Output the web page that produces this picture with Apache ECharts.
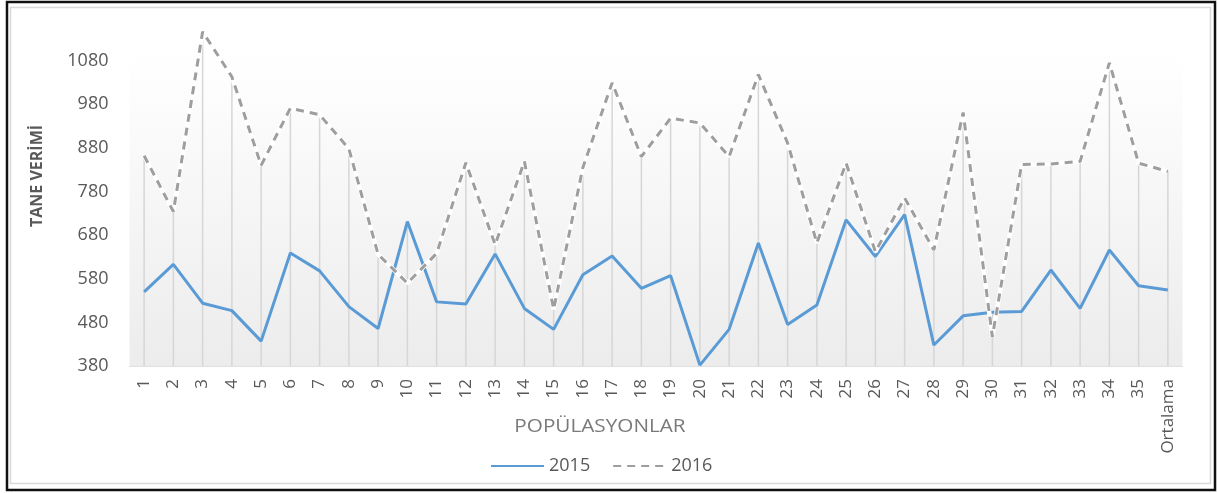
<!DOCTYPE html>
<html>
<head>
<meta charset="utf-8">
<script src="https://cdn.jsdelivr.net/npm/echarts@6/dist/echarts.min.js"></script>
<style>
  html, body { margin: 0; padding: 0; background: #ffffff; }
  #chart { width: 1218px; height: 493px; }
</style>
</head>
<body>
<div id="chart"></div>
<script>
// Population numbers plus the overall mean
const categories = ['1','2','3','4','5','6','7','8','9','10','11','12','13','14','15','16','17','18',
  '19','20','21','22','23','24','25','26','27','28','29','30','31','32','33','34','35','Ortalama'];

// Grain yield per population, 2015 season
const yield2015 = [550, 613, 524, 507, 437, 639, 598, 516, 466, 711, 527, 522, 637, 512, 464, 589, 632, 558,
  587, 382, 464, 662, 475, 520, 715, 631, 727, 428, 495, 503, 505, 600, 512, 646, 564, 554];

// Grain yield per population, 2016 season
const yield2016 = [862, 734, 1146, 1043, 840, 971, 956, 878, 636, 570, 638, 846, 658, 849, 510, 835, 1029, 860,
  948, 937, 860, 1048, 891, 662, 845, 642, 765, 646, 961, 447, 842, 843, 849, 1075, 845, 826];

const seriesNames = ['2015', '2016'];
const xTitle = 'POPÜLASYONLAR';
const yTitle = 'TANE VERİMİ';
const yAxisMin = 380;
const yAxisMax = 1180;
const yAxisStep = 100;

// Drop lines reach from the axis up to the higher of the two seasons
const dropHeights = categories.map((_, i) => Math.max(yield2015[i], yield2016[i]));

const FONT = '"Open Sans", "Noto Sans", sans-serif';
const chart = echarts.init(document.getElementById('chart'), null, { renderer: 'canvas' });

chart.setOption({
  backgroundColor: '#ffffff',
  animation: false,
  textStyle: { fontFamily: FONT },
  graphic: [
    {
      type: 'rect', z: 100, silent: true,
      shape: { x: 10.5, y: 7.5, width: 1200, height: 476 },
      style: { fill: 'none', stroke: '#d9d9d9', lineWidth: 1.5 }
    },
    {
      type: 'rect', z: 100, silent: true,
      shape: { x: 7, y: 2, width: 1208, height: 488 },
      style: { fill: 'none', stroke: '#111111', lineWidth: 2.5 }
    },
    {
      type: 'text', z: 100, silent: true,
      x: 600, y: 427, scaleX: 1.15,
      style: {
        text: xTitle, fontFamily: FONT, fontSize: 18, fill: '#7a7a7a',
        align: 'center', verticalAlign: 'middle'
      }
    },
    {
      type: 'text', z: 100, silent: true,
      x: 37, y: 176, rotation: Math.PI / 2,
      style: {
        text: yTitle, fontFamily: FONT, fontSize: 16, fontWeight: 'bold', fill: '#595959',
        align: 'center', verticalAlign: 'middle'
      }
    }
  ],
  grid: {
    left: 129.5, right: 35.5, top: 17, bottom: 127,
    show: true, borderWidth: 0,
    backgroundColor: {
      type: 'linear', x: 0, y: 0, x2: 0, y2: 1,
      colorStops: [
        { offset: 0, color: '#ffffff' },
        { offset: 0.15, color: '#fefefe' },
        { offset: 1, color: '#ececec' }
      ]
    }
  },
  legend: {
    data: seriesNames,
    left: 485, top: 452,
    itemWidth: 53, itemHeight: 14, itemGap: 22,
    itemStyle: { opacity: 0 },
    textStyle: { fontFamily: FONT, fontSize: 18, color: '#595959' }
  },
  xAxis: {
    type: 'category',
    data: categories,
    boundaryGap: true,
    axisLine: { show: true, lineStyle: { color: '#e0e0e0', width: 1 } },
    axisTick: { show: false },
    splitLine: { show: false },
    axisLabel: {
      rotate: 90, margin: 13, interval: 0,
      fontFamily: FONT, fontSize: 17, color: '#595959'
    }
  },
  yAxis: {
    type: 'value',
    min: yAxisMin, max: yAxisMax, interval: yAxisStep,
    axisLine: { show: false },
    axisTick: { show: false },
    splitLine: { show: false },
    axisLabel: {
      margin: 21, showMaxLabel: false,
      formatter: (v) => String(v),
      fontFamily: FONT, fontSize: 18, color: '#595959'
    }
  },
  series: [
    {
      name: 'dropLines',
      type: 'bar',
      data: dropHeights,
      barWidth: 1.5,
      silent: true,
      z: 1,
      itemStyle: { color: '#d6d6d6' }
    },
    {
      name: seriesNames[0],
      type: 'line',
      data: yield2015,
      symbol: 'none',
      z: 3,
      lineStyle: { color: '#5b9bd5', width: 3 },
      itemStyle: { color: '#5b9bd5' }
    },
    {
      name: 'halo2016',
      type: 'line',
      data: yield2016,
      symbol: 'none',
      silent: true,
      z: 4,
      lineStyle: { color: '#ffffff', width: 4.5 }
    },
    {
      name: seriesNames[1],
      type: 'line',
      data: yield2016,
      symbol: 'none',
      z: 5,
      lineStyle: { color: '#9e9e9e', width: 3, type: [8, 6] },
      itemStyle: { color: '#9e9e9e' }
    }
  ]
});
</script>
</body>
</html>
